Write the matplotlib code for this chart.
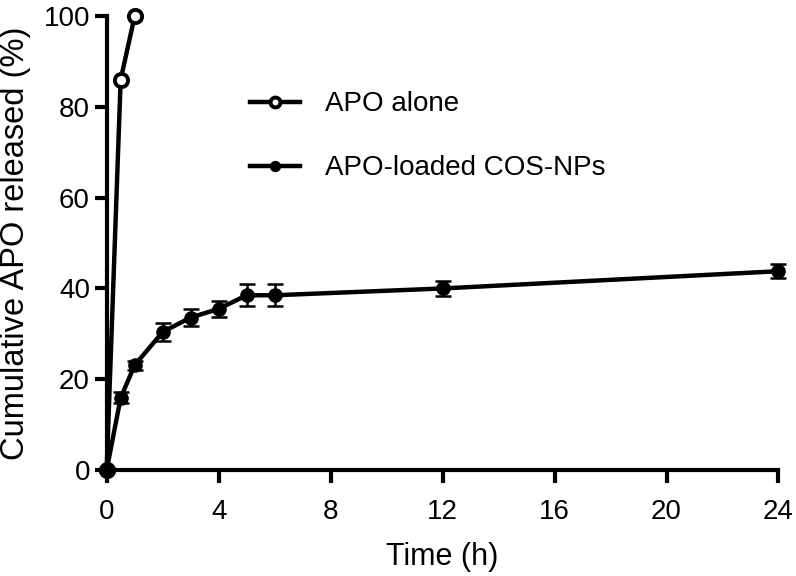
import matplotlib.pyplot as plt
import numpy as np

plt.rcParams['font.family'] = ['Liberation Sans', 'DejaVu Sans']

# APO alone
t_free = [0, 0.5, 1]
rel_free = [0, 86, 100]

# APO-loaded COS-NPs
t_np = [0, 0.5, 1, 2, 3, 4, 5, 6, 12, 24]
rel_np = [0, 15.9, 23.1, 30.4, 33.6, 35.5, 38.5, 38.5, 40.0, 43.8]
err_np = [0.5, 1.2, 1.0, 1.9, 1.8, 1.7, 2.4, 2.4, 1.7, 1.6]

xticks = [0, 4, 8, 12, 16, 20, 24]
yticks = [0, 20, 40, 60, 80, 100]

fig = plt.figure(figsize=(7.96, 5.76), dpi=100)
ax = fig.add_axes([0.134, 0.184, 0.844, 0.788])

ax.plot(t_free, rel_free, '-o', color='black', lw=3.2, ms=9.5,
        mfc='white', mec='black', mew=2.8, clip_on=False, zorder=3,
        label='APO alone')
ax.errorbar(t_np, rel_np, yerr=err_np, fmt='none', ecolor='black',
            capsize=5.5, capthick=1.8, elinewidth=1.8, clip_on=False, zorder=4)
ax.plot(t_np, rel_np, '-o', color='black', lw=3.2, ms=9.5, clip_on=False,
        zorder=4, label='APO-loaded COS-NPs')

ax.set_xlim(0, 24)
ax.set_ylim(0, 100)
ax.set_xticks(xticks)
ax.set_yticks(yticks)
for s in ['top', 'right']:
    ax.spines[s].set_visible(False)
for s in ['left', 'bottom']:
    ax.spines[s].set_linewidth(3)
ax.tick_params(direction='out', length=9, width=3, labelsize=20)
ax.tick_params(axis='x', pad=12)
ax.tick_params(axis='y', pad=3)

ax.set_xlabel('Time (h)', fontsize=22, labelpad=12)
ax.set_ylabel('Cumulative APO released (%)', fontsize=23.5, labelpad=9)

h, l = ax.get_legend_handles_labels()
ax.legend(h, l, loc='upper left', bbox_to_anchor=(0.283, 0.885),
          bbox_transform=fig.transFigure, frameon=False,
          fontsize=20, handlelength=1.8, handletextpad=0.9, labelspacing=1.37,
          markerscale=0.75)

plt.savefig('out.png', dpi=100)
